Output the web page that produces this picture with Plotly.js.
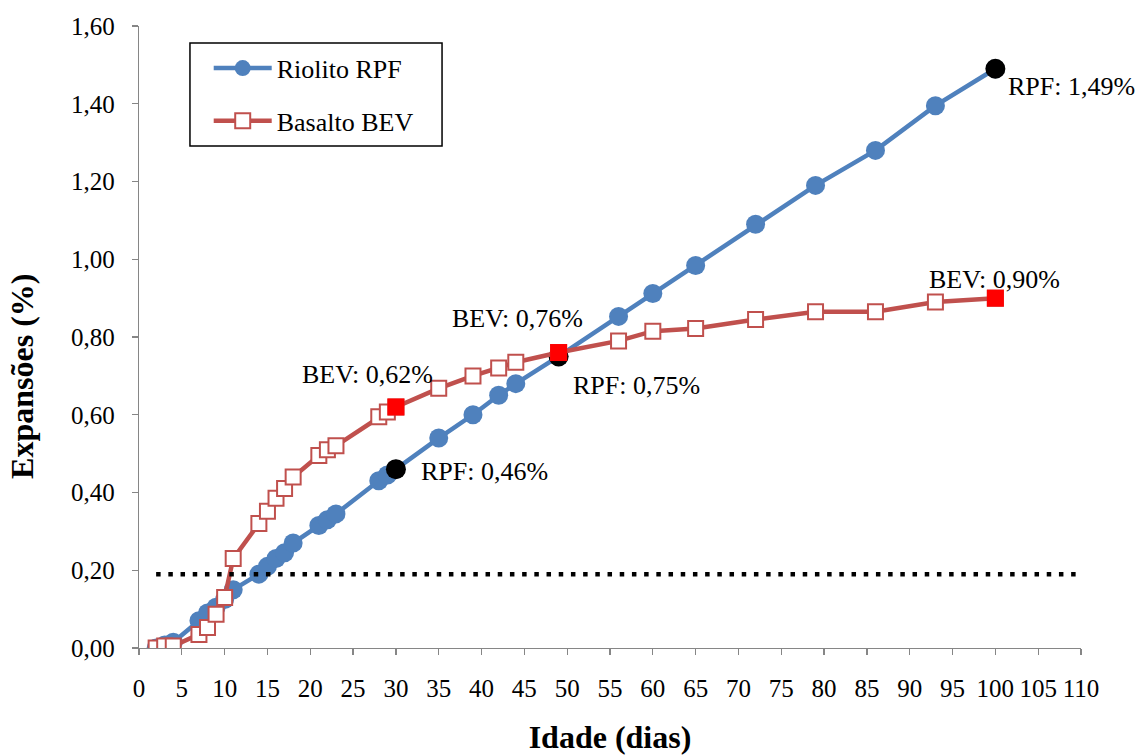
<!DOCTYPE html>
<html>
<head>
<meta charset="utf-8">
<script src="https://cdn.plot.ly/plotly-3.0.1.min.js"></script>
<style>
  html, body { margin: 0; padding: 0; background: #ffffff; }
  #grafico { width: 1138px; height: 755px; }
</style>
</head>
<body>
<div id="grafico"></div>
<script>
// Idade dos prismas (dias) e expansões medidas (%)
const diasRPF = [2, 3, 4, 7, 8, 9, 10, 11, 14, 15, 16, 17, 18, 21, 22, 23, 28, 29, 30, 35, 39, 42, 44, 49, 56, 60, 65, 72, 79, 86, 93, 100];
const expRPF  = [0.00, 0.008, 0.015, 0.07, 0.09, 0.105, 0.125, 0.15, 0.19, 0.21, 0.23, 0.245, 0.27, 0.315, 0.33, 0.345, 0.43, 0.445, 0.46, 0.54, 0.60, 0.65, 0.68, 0.75, 0.853, 0.912, 0.984, 1.09, 1.19, 1.28, 1.395, 1.49];

const diasBEV = [2, 3, 4, 7, 8, 9, 10, 11, 14, 15, 16, 17, 18, 21, 22, 23, 28, 29, 30, 35, 39, 42, 44, 49, 56, 60, 65, 72, 79, 86, 93, 100];
const expBEV  = [0.00, 0.005, 0.005, 0.035, 0.053, 0.087, 0.13, 0.23, 0.32, 0.352, 0.385, 0.41, 0.44, 0.495, 0.51, 0.52, 0.595, 0.607, 0.62, 0.668, 0.70, 0.72, 0.735, 0.76, 0.79, 0.815, 0.822, 0.845, 0.865, 0.865, 0.89, 0.90];

// Idades em destaque
const diasDestaque = [30, 49, 100];

// Limite de expansão
const limite = 0.19;
const limiteDias = [2, 110];

const nomeRPF = 'Riolito RPF';
const nomeBEV = 'Basalto BEV';

const azul = '#4F81BD';
const vermelho = '#C0504D';
const fonte = 'Liberation Serif';

function valorEm(dias, valores, d) { return valores[dias.indexOf(d)]; }
function fmt(v) { return v.toFixed(2).replace('.', ',') + '%'; }

const yRPFdest = diasDestaque.map(d => valorEm(diasRPF, expRPF, d));
const yBEVdest = diasDestaque.map(d => valorEm(diasBEV, expBEV, d));

const traces = [
  {
    x: diasRPF, y: expRPF, name: nomeRPF, type: 'scatter', mode: 'lines+markers',
    line: { color: azul, width: 4.5 },
    marker: { symbol: 'circle', size: 19, color: azul },
    legendgroup: 'a'
  },
  {
    x: diasDestaque, y: yRPFdest, type: 'scatter', mode: 'markers', showlegend: false,
    marker: { symbol: 'circle', size: 20, color: '#000000' }, hoverinfo: 'skip'
  },
  {
    x: diasBEV, y: expBEV, name: nomeBEV, type: 'scatter', mode: 'lines+markers',
    line: { color: vermelho, width: 4.5 },
    marker: { symbol: 'square', size: 15, color: '#ffffff', line: { color: vermelho, width: 2 } },
    legendgroup: 'b'
  },
  {
    x: diasDestaque, y: yBEVdest, type: 'scatter', mode: 'markers', showlegend: false,
    marker: { symbol: 'square', size: 17, color: '#FF0000' }, hoverinfo: 'skip'
  }
];

// Posição de cada rótulo em relação ao ponto (px)
const posRPF = [
  { xanchor: 'left', xshift: 23, yshift: -2 },
  { xanchor: 'left', xshift: 12, yshift: -29 },
  { xanchor: 'left', xshift: 11, yshift: -18 }
];
const posBEV = [
  { xanchor: 'center', xshift: -28, yshift: 32 },
  { xanchor: 'center', xshift: -41, yshift: 34 },
  { xanchor: 'center', xshift: -1, yshift: 19 }
];

const annotations = [];
diasDestaque.forEach((d, i) => {
  annotations.push(Object.assign({
    x: d, y: yRPFdest[i], xref: 'x', yref: 'y', text: 'RPF: ' + fmt(yRPFdest[i]),
    showarrow: false, yanchor: 'middle', font: { family: fonte, size: 26, color: '#000' }
  }, posRPF[i]));
  annotations.push(Object.assign({
    x: d, y: yBEVdest[i], xref: 'x', yref: 'y', text: 'BEV: ' + fmt(yBEVdest[i]),
    showarrow: false, yanchor: 'middle', font: { family: fonte, size: 26, color: '#000' }
  }, posBEV[i]));
});

// Título do eixo vertical
annotations.push({
  xref: 'paper', yref: 'paper', x: -0.1245, y: 0.437, text: '<b>Expansões (%)</b>',
  textangle: -90, showarrow: false, xanchor: 'center', yanchor: 'middle',
  font: { family: fonte, size: 32, color: '#000' }
});

const layout = {
  width: 1138, height: 755,
  margin: { l: 139, r: 57, t: 26, b: 107 },
  paper_bgcolor: '#ffffff', plot_bgcolor: '#ffffff',
  separators: ',.',
  font: { family: fonte, size: 25, color: '#000000' },
  showlegend: true,
  legend: {
    x: 0.074, y: 0.970, xanchor: 'left', yanchor: 'top',
    borderwidth: 0, bgcolor: 'rgba(0,0,0,0)',
    font: { family: fonte, size: 26, color: '#000000' },
    itemwidth: 58, traceorder: 'grouped', tracegroupgap: 16
  },
  xaxis: {
    range: [0, 110], tickmode: 'linear', tick0: 0, dtick: 5,
    showgrid: false, zeroline: false, showline: true, linecolor: '#868686', linewidth: 1.3,
    ticks: 'outside', ticklen: 6, tickcolor: '#868686', tickwidth: 1.3,
    ticklabelstandoff: 12,
    tickfont: { family: fonte, size: 25, color: '#000000' },
    title: { text: '<b>Idade (dias)</b>', font: { family: fonte, size: 32, color: '#000000' }, standoff: 37 },
    fixedrange: true
  },
  yaxis: {
    range: [0, 1.6], tickmode: 'linear', tick0: 0, dtick: 0.2, tickformat: '.2f',
    showgrid: false, zeroline: false, showline: true, linecolor: '#868686', linewidth: 1.3,
    ticks: 'outside', ticklen: 6, tickcolor: '#868686', tickwidth: 1.3,
    ticklabelstandoff: 12,
    tickfont: { family: fonte, size: 25, color: '#000000' },
    fixedrange: true
  },
  shapes: [
    {
      type: 'line', xref: 'x', yref: 'y', layer: 'above',
      x0: limiteDias[0], x1: limiteDias[1], y0: limite, y1: limite,
      line: { color: '#000000', width: 4.5, dash: '4.5px,7.7px' }
    },
    {
      // moldura da legenda
      type: 'rect', xref: 'paper', yref: 'paper', layer: 'above',
      x0: 0.0541, x1: 0.3217, y0: 0.8071, y1: 0.9727,
      line: { color: '#000000', width: 1.5 }, fillcolor: 'rgba(0,0,0,0)'
    }
  ],
  annotations: annotations
};

Plotly.newPlot('grafico', traces, layout, { displayModeBar: false, staticPlot: true });
</script>
</body>
</html>
